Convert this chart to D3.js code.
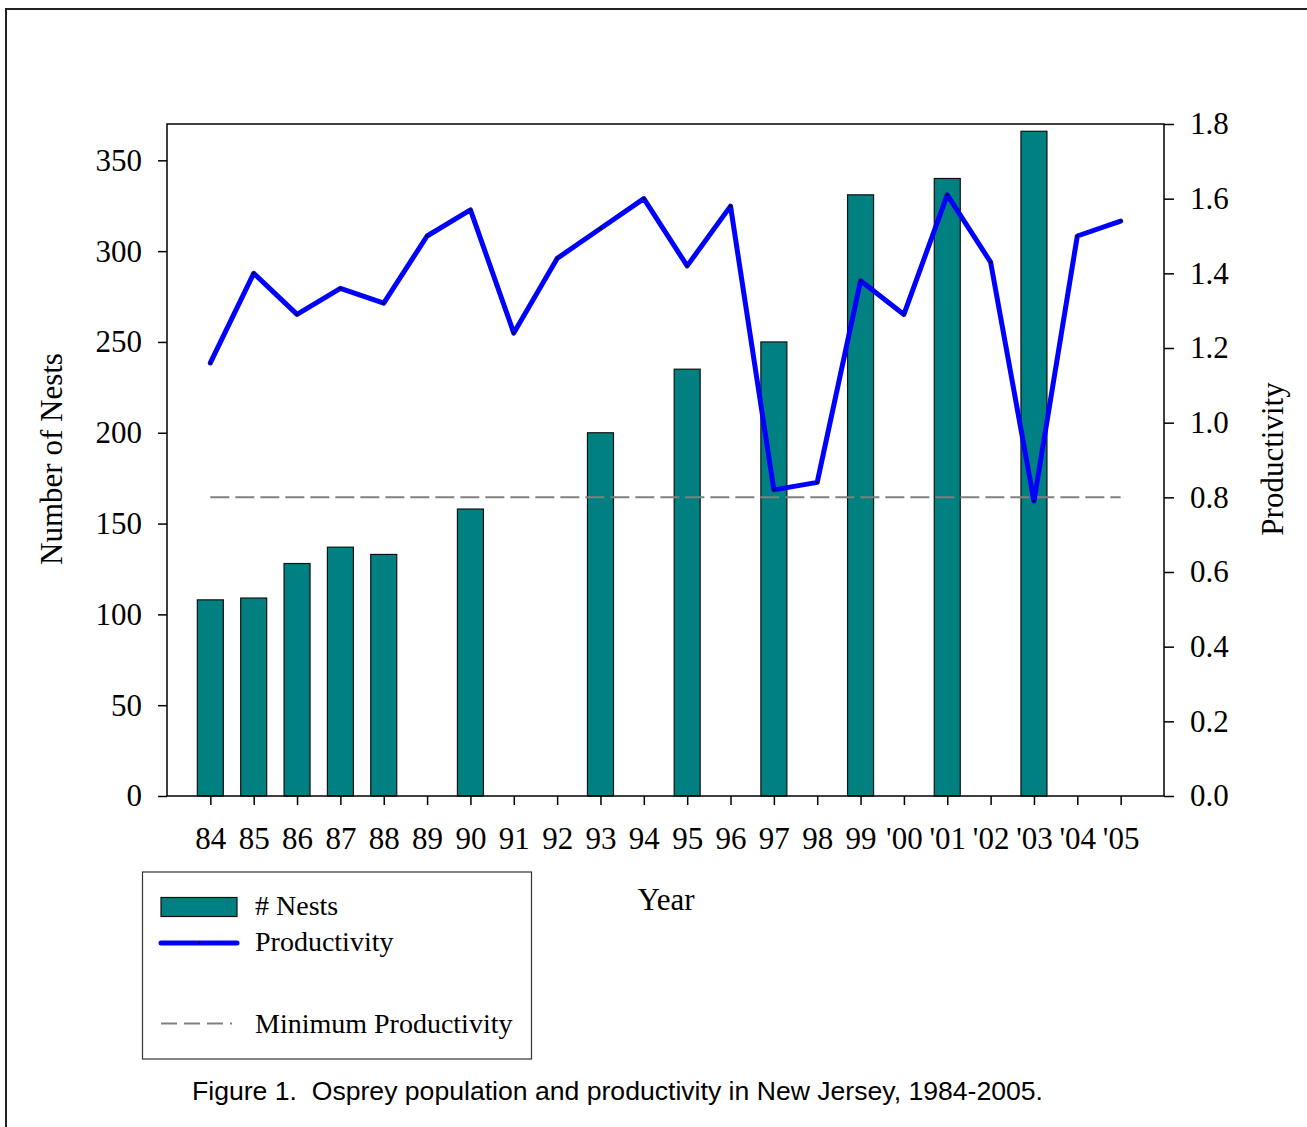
<!DOCTYPE html>
<html>
<head>
<meta charset="utf-8">
<script src="https://cdn.jsdelivr.net/npm/d3@7"></script>
<style>
  html, body { margin: 0; padding: 0; background: #fff; }
  svg { display: block; }
</style>
</head>
<body>
<svg id="chart" width="1307" height="1127"></svg>
<script>
const years = ["84","85","86","87","88","89","90","91","92","93","94","95","96","97","98","99","'00","'01","'02","'03","'04","'05"];
const nests = [108,109,128,137,133,null,158,null,null,200,null,235,null,250,null,331,null,340,null,366,null,null];
const productivity = [1.16,1.40,1.29,1.36,1.32,1.50,1.57,1.24,1.44,1.52,1.60,1.42,1.58,0.82,0.84,1.38,1.29,1.61,1.43,0.79,1.50,1.54];
const minProductivity = 0.8;
const nestTicks = [0,50,100,150,200,250,300,350];
const prodTicks = [0,0.2,0.4,0.6,0.8,1.0,1.2,1.4,1.6,1.8];
const legendItems = ["# Nests","Productivity","Minimum Productivity"];
const caption = "Figure 1.  Osprey population and productivity in New Jersey, 1984-2005.";

const svg = d3.select("#chart");
const serif = "'Liberation Serif','Times New Roman',serif";
const L = 167, R = 1164, T = 124, B = 796;

// outer border
svg.append("rect").attr("x",6).attr("y",9).attr("width",1310).attr("height",1130)
  .attr("fill","none").attr("stroke","#222").attr("stroke-width",2);

const x = d3.scalePoint().domain(years).range([L,R]).padding(1);
const yL = d3.scaleLinear().domain([0,370]).range([B,T]);
const yR = d3.scaleLinear().domain([0,1.8]).range([B,T]);

// bars
const barW = 26;
svg.append("g").selectAll("rect")
  .data(years.map((yr,i)=>({yr, v:nests[i]})).filter(d=>d.v!==null))
  .join("rect")
  .attr("x", d=>x(d.yr)-barW/2)
  .attr("y", d=>yL(d.v))
  .attr("width", barW)
  .attr("height", d=>yL(0)-yL(d.v))
  .attr("fill","#008080")
  .attr("stroke","#111")
  .attr("stroke-width",1.2);

// minimum productivity dashed line
svg.append("line")
  .attr("x1", x(years[0])).attr("x2", x(years[years.length-1]))
  .attr("y1", yR(minProductivity)).attr("y2", yR(minProductivity))
  .attr("stroke","#808080").attr("stroke-width",2).attr("stroke-dasharray","19 6");

// productivity line
const line = d3.line().x((d,i)=>x(years[i])).y(d=>yR(d));
svg.append("path").datum(productivity)
  .attr("d", line)
  .attr("fill","none").attr("stroke","#0000ff").attr("stroke-width",5)
  .attr("stroke-linejoin","round").attr("stroke-linecap","round");
svg.append("g").selectAll("circle").data(productivity).join("circle")
  .attr("cx",(d,i)=>x(years[i])).attr("cy",d=>yR(d)).attr("r",1.3).attr("fill","#000");

// frame
svg.append("rect").attr("x",L).attr("y",T).attr("width",R-L).attr("height",B-T)
  .attr("fill","none").attr("stroke","#000").attr("stroke-width",1.5);

function styleAxis(g){
  g.select(".domain").remove();
  g.selectAll(".tick line").attr("stroke","#000").attr("stroke-width",1.5);
  g.selectAll(".tick text").attr("font-family",serif).attr("font-size",31).attr("fill","#000");
}

svg.append("g").attr("transform",`translate(${L},0)`)
  .call(d3.axisLeft(yL).tickValues(nestTicks).tickSize(9).tickPadding(16).tickFormat(d3.format("d")))
  .call(styleAxis);

svg.append("g").attr("transform",`translate(${R},0)`)
  .call(d3.axisRight(yR).tickValues(prodTicks).tickSize(10).tickPadding(16).tickFormat(d3.format(".1f")))
  .call(styleAxis);

const xa = svg.append("g").attr("transform",`translate(0,${B})`)
  .call(d3.axisBottom(x).tickSize(9).tickPadding(22))
  .call(styleAxis);
xa.selectAll(".tick text").attr("dy","0.71em");

// axis titles
svg.append("text").attr("transform","translate(62,459) rotate(-90)")
  .attr("text-anchor","middle").attr("font-family",serif).attr("font-size",31).text("Number of Nests");
svg.append("text").attr("transform","translate(1283,459) rotate(-90)")
  .attr("text-anchor","middle").attr("font-family",serif).attr("font-size",31).text("Productivity");
svg.append("text").attr("x",666).attr("y",910)
  .attr("text-anchor","middle").attr("font-family",serif).attr("font-size",31).text("Year");

// legend
const lg = svg.append("g");
lg.append("rect").attr("x",142.5).attr("y",872).attr("width",389).attr("height",187)
  .attr("fill","#fff").attr("stroke","#333").attr("stroke-width",1.2);
lg.append("rect").attr("x",161).attr("y",897.5).attr("width",76).attr("height",19)
  .attr("fill","#008080").attr("stroke","#111").attr("stroke-width",1.2);
lg.append("line").attr("x1",161).attr("x2",237).attr("y1",943).attr("y2",943)
  .attr("stroke","#0000ff").attr("stroke-width",5).attr("stroke-linecap","round");
lg.append("circle").attr("cx",199).attr("cy",943).attr("r",1.2).attr("fill","#000");
lg.append("line").attr("x1",161).attr("x2",232).attr("y1",1023.5).attr("y2",1023.5)
  .attr("stroke","#808080").attr("stroke-width",2).attr("stroke-dasharray","16 7");
const ly = [915, 951, 1033];
lg.selectAll("text.leg").data(legendItems).join("text").attr("class","leg")
  .attr("x",255).attr("y",(d,i)=>ly[i])
  .attr("font-family",serif).attr("font-size",28).attr("fill","#000").text(d=>d);

// caption
svg.append("text").attr("x",192).attr("y",1100)
  .attr("font-family","'Liberation Sans',Arial,sans-serif").attr("font-size",26.6)
  .style("white-space","pre").attr("fill","#000").text(caption);
</script>
</body>
</html>
